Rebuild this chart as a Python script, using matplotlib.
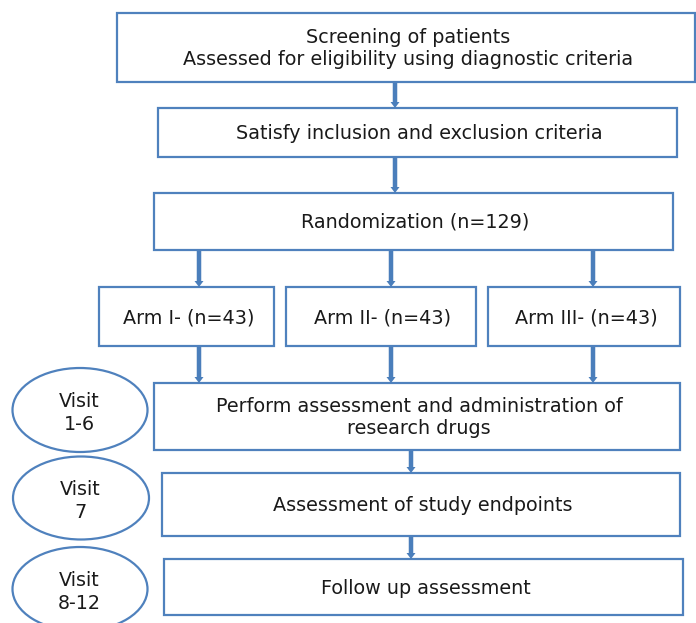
import matplotlib
matplotlib.use("Agg")
import matplotlib.pyplot as plt
from matplotlib.patches import Rectangle, Ellipse

plt.rcParams['font.family'] = ['DejaVu Sans']

# ---- content ----
box_labels = [
    "Screening of patients\nAssessed for eligibility using diagnostic criteria",
    "Satisfy inclusion and exclusion criteria",
    "Randomization (n=129)",
    "Perform assessment and administration of\nresearch drugs",
    "Assessment of study endpoints",
    "Follow up assessment",
]
arm_labels = ["Arm I- (n=43)", "Arm II- (n=43)", "Arm III- (n=43)"]
visit_labels = ["Visit\n1-6", "Visit\n7", "Visit\n8-12"]

# ---- layout (pixel coordinates, y down) ----
box_geom = [  # x0, y0, x1, y1
    (117, 13, 695, 82),
    (158, 108, 677, 157),
    (154, 193, 673, 250),
    (154, 383, 680, 450),
    (162, 473, 680, 536),
    (164, 559, 683, 615),
]
arm_geom = [(99, 287, 274, 346), (286, 287, 476, 346), (488, 287, 680, 346)]
visit_geom = [(80, 410, 135, 84), (81, 498, 136, 83), (80, 589, 135, 84)]
arrows = [  # x, y_start, y_end
    (395, 82, 108), (395, 157, 193),
    (199, 250, 287), (391, 250, 287), (593, 250, 287),
    (199, 346, 383), (391, 346, 383), (593, 346, 383),
    (411, 450, 473), (411, 536, 559),
]

edge = '#4F81BD'
arrow_c = '#4A7EBB'
fs = 13.8

fig = plt.figure(figsize=(6.96, 6.23), dpi=100)
ax = fig.add_axes([0, 0, 1, 1])
ax.set_xlim(0, 696)
ax.set_ylim(623, 0)
ax.axis('off')

def box(g, label):
    x0, y0, x1, y1 = g
    ax.add_patch(Rectangle((x0, y0), x1 - x0, y1 - y0, fill=False,
                           edgecolor=edge, lw=1.6))
    ax.text((x0 + x1) / 2 + 2, (y0 + y1) / 2 + 1, label, ha='center', va='center',
            fontsize=fs, color='#1a1a1a', linespacing=1.25)

for g, lab in zip(box_geom, box_labels):
    box(g, lab)
for g, lab in zip(arm_geom, arm_labels):
    box(g, lab)
for (cx, cy, w, h), lab in zip(visit_geom, visit_labels):
    ax.add_patch(Ellipse((cx, cy), w, h, fill=False, edgecolor=edge, lw=1.6))
    ax.text(cx - 1, cy + 3, lab, ha='center', va='center', fontsize=fs,
            color='#1a1a1a', linespacing=1.25)

for x, ys, ye in arrows:
    ax.arrow(x, ys + 1, 0, ye - ys - 1, width=4.5, head_width=9, head_length=6,
             length_includes_head=True, color=arrow_c, ec='none')

fig.savefig('out.png', dpi=100, facecolor='white')
